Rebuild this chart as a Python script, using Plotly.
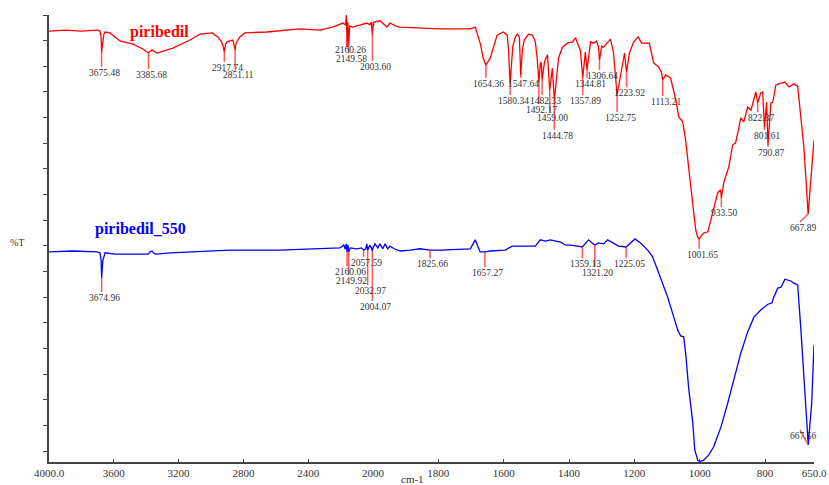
import plotly.graph_objects as go

# ---------------- data ----------------
red_wn = [4000, 3900, 3800, 3704, 3685, 3678, 3675.48, 3668, 3661, 3654, 3624, 3562, 3482, 3420,
          3385.68, 3364, 3334, 3235, 3130, 3068, 2994, 2957, 2935, 2925, 2917.74, 2910, 2902, 2865,
          2858, 2851.11, 2845, 2835, 2822, 2791, 2655, 2451, 2328, 2248, 2186, 2170, 2164, 2160.26,
          2155, 2149.58, 2144, 2124, 2081, 2038, 2019, 2010, 2003.60, 1997, 1979, 1963, 1957, 1948,
          1930, 1917, 1856, 1794, 1702, 1687, 1672, 1662, 1654.36, 1641, 1620, 1601, 1589, 1585,
          1580.34, 1572, 1564, 1558, 1552, 1547.64, 1543, 1537, 1524, 1512, 1503, 1497, 1492.17,
          1488, 1485, 1482.33, 1475, 1466, 1459.00, 1451, 1444.78, 1432, 1420, 1405, 1389, 1380,
          1374, 1365, 1357.89, 1350, 1344.81, 1334, 1325, 1316, 1310, 1306.64, 1300, 1294, 1273,
          1264, 1252.75, 1242, 1230, 1223.92, 1215, 1202, 1188, 1178, 1154, 1141, 1126, 1117,
          1113.21, 1104, 1089, 1073, 1064, 1052, 1043, 1027, 1012, 1006, 1001.65, 995, 988, 975, 966,
          957, 945, 936, 933.50, 926, 911, 899, 890, 883, 874, 865, 853, 843, 828, 822.37, 813,
          807, 801.61, 795, 790.87, 782, 776, 767, 758, 739, 727, 712, 700, 681, 667.89, 650]
red_T = [96.4, 96.6, 96.4, 96.6, 96.4, 95.0, 91.7, 94.5, 95.7, 96.2, 96.0, 94.2, 93.5, 92.4,
         91.5, 92.2, 91.5, 92.6, 94.4, 95.7, 96.0, 95.1, 94.0, 93.0, 91.7, 93.5, 94.0, 94.4,
         93.5, 92.2, 93.8, 94.4, 95.1, 96.0, 96.2, 96.9, 96.6, 97.3, 98.2, 97.8, 100.0, 92.8,
         98.4, 93.3, 97.5, 97.3, 97.8, 98.2, 97.8, 98.4, 95.5, 98.4, 98.7, 97.8, 97.3, 98.2,
         97.5, 97.3, 97.1, 96.9, 96.9, 97.3, 93.7, 90.2, 88.8, 90.4, 95.5, 96.2, 95.5, 92.0,
         84.6, 93.0, 95.1, 95.7, 95.1, 86.4, 92.0, 94.4, 95.7, 95.5, 94.0, 89.9, 85.0,
         89.0, 89.5, 85.5, 89.5, 91.1, 83.2, 88.1, 81.0, 90.4, 92.8, 93.7, 94.0, 94.9,
         93.7, 92.0, 85.9, 91.7, 87.7, 94.0, 93.7, 94.2, 93.0, 89.9, 93.0, 92.8, 94.6,
         91.7, 82.1, 87.0, 91.5, 87.2, 91.5, 94.0, 95.1, 93.7, 93.7, 89.3, 88.4, 87.2,
         85.5, 86.6, 85.9, 81.0, 77.2, 76.1, 72.0, 61.5, 51.9, 50.3, 49.9, 50.6, 51.2, 51.5, 54.1,
         57.0, 60.2, 60.9, 59.1, 62.6, 66.0, 70.9, 71.4, 73.8, 77.0, 76.1, 79.4, 78.7, 82.8, 80.3, 82.6,
         82.8, 74.9, 80.5, 70.9, 80.3, 80.5, 84.3, 84.6, 85.0, 83.9, 84.6, 84.1, 70.5, 55.5, 72.0]

blue_wn = [4000, 3850, 3704, 3685, 3678, 3674.96, 3668, 3661, 3654, 3593, 3439, 3389, 3375, 3364,
           3350, 3334, 3253, 3130, 3068, 2883, 2575, 2266, 2205, 2190, 2180, 2172, 2165, 2160.06,
           2155, 2149.92, 2140, 2100, 2070, 2057.59, 2045, 2038, 2032.97, 2020, 2010, 2004.07,
           1994, 1985, 1979, 1970, 1963, 1955, 1948, 1935, 1917, 1886, 1856, 1825.66, 1794, 1702,
           1687, 1672, 1657.27, 1641, 1595, 1574, 1549, 1503, 1488, 1472, 1457, 1426, 1410, 1396,
           1374, 1359.13, 1340, 1321.20, 1310, 1294, 1282, 1264, 1248, 1225.05, 1198, 1181, 1159,
           1144, 1129, 1113, 1098, 1083, 1067, 1058, 1049, 1043, 1034, 1021, 1015, 1006, 1000,
           988, 972, 957, 935, 914, 896, 874, 853, 834, 813, 791, 779, 773, 761, 751, 739, 721,
           712, 700, 690, 681, 667.56, 657, 650]
blue_T = [47.0, 47.2, 47.0, 46.8, 45.0, 41.2, 45.0, 46.1, 46.8, 46.5, 46.5, 46.5, 47.0, 47.2,
          46.6, 46.5, 46.8, 47.0, 47.2, 47.4, 47.4, 47.7, 47.9, 48.2, 48.6, 47.6, 48.8, 47.0,
          48.6, 47.0, 47.9, 47.7, 47.9, 47.4, 47.7, 48.8, 47.4, 48.5, 47.9, 47.2,
          48.8, 47.9, 48.8, 47.7, 48.8, 47.7, 48.3, 47.7, 47.2, 47.4, 47.7, 47.4, 47.4, 47.7,
          49.7, 47.0, 47.0, 47.2, 47.4, 48.3, 48.3, 48.3, 49.7, 49.4, 49.7, 49.2, 48.5, 48.5,
          48.3, 48.1, 49.7, 48.5, 49.0, 48.8, 49.7, 49.0, 48.3, 48.1, 49.9, 49.0, 47.4,
          45.9, 43.0, 39.6, 36.9, 33.3, 29.5, 28.2, 28.0, 24.4, 16.8, 8.7, 2.7, 0.4, 0.1,
          0.4, 1.6, 3.4, 7.8, 13.2, 18.3, 24.4, 29.1, 32.4, 34.0, 35.3, 35.6, 36.9, 38.9, 39.1,
          40.9, 40.5, 40.0, 39.6, 29.5, 18.3, 3.8, 13.2, 26.2]

# peak labels: wavenumber and %T at the peak
red_peaks = [3675.48, 3385.68, 2917.74, 2851.11, 2160.26, 2149.58, 2003.60, 1654.36, 1580.34,
             1547.64, 1492.17, 1482.33, 1459.00, 1444.78, 1357.89, 1344.81, 1306.64, 1252.75,
             1223.92, 1113.21, 1001.65, 933.50, 822.37, 801.61, 790.87, 667.89]
red_peak_T = [91.7, 91.5, 91.7, 92.2, 92.8, 93.3, 95.5, 88.8, 84.6,
              86.4, 85.0, 85.5, 83.2, 81.0, 85.9, 87.7, 89.9, 82.1,
              87.2, 85.5, 49.9, 59.1, 80.3, 74.9, 70.9, 55.5]
blue_peaks = [3674.96, 2160.06, 2149.92, 2057.59, 2032.97, 2004.07, 1825.66, 1657.27,
              1359.13, 1321.20, 1225.05, 667.56]
blue_peak_T = [41.2, 47.0, 47.0, 47.4, 47.4, 47.2, 47.4, 47.0, 48.1, 48.5, 48.1, 3.8]

# label placement (layout): end point of each leader line, where its text hangs
red_lab_x = [3675.48, 3385.68, 2917.74, 2851.11, 2160.26, 2149.58, 2003.60, 1654.36, 1580.34,
             1547.64, 1492.17, 1482.33, 1459.00, 1444.78, 1357.89, 1344.81, 1306.64, 1252.75,
             1223.92, 1113.21, 1001.65, 933.50, 822.37, 801.61, 790.87, 693]
red_lab_y = [88.4, 87.9, 89.5, 87.9, 93.6, 91.5, 89.7, 85.9, 82.1,
             85.9, 80.1, 82.1, 78.3, 74.3, 82.1, 85.9, 87.7, 78.3,
             83.9, 81.9, 47.7, 57.0, 78.3, 74.3, 70.5, 53.7]
blue_lab_x = [3674.96, 2160.06, 2149.92, 2057.59, 2032.97, 2004.07, 1825.66, 1657.27,
              1359.13, 1321.20, 1225.05, 693]
blue_lab_y = [38.0, 43.8, 41.8, 45.9, 39.6, 36.0, 45.6, 43.6, 45.6, 43.6, 45.6, 7.2]

x_ticks_hi = [4000, 3600, 3200, 2800, 2400]
x_text_hi = ["4000.0", "3600", "3200", "2800", "2400"]
x_ticks_lo = [2000, 1800, 1600, 1400, 1200, 1000, 800, 650]
x_text_lo = ["2000", "1800", "1600", "1400", "1200", "1000", "800", "650.0"]

# ---------------- figure ----------------
SERIF = "Liberation Serif, Times New Roman, serif"
split = 324 / 765.0

fig = go.Figure()
for xa in ("x", "x2"):
    fig.add_trace(go.Scatter(x=red_wn, y=red_T, mode="lines", xaxis=xa, yaxis="y",
                             line=dict(color="#ff0000", width=1.3), showlegend=False,
                             hoverinfo="skip"))
    fig.add_trace(go.Scatter(x=blue_wn, y=blue_T, mode="lines", xaxis=xa, yaxis="y",
                             line=dict(color="#0000ff", width=1.3), showlegend=False,
                             hoverinfo="skip"))

LEAD = "rgba(255,30,30,0.75)"
shapes = []
annotations = []


def add_labels(peaks, peak_T, lab_x, lab_y):
    for p, pt, lx, ly in zip(peaks, peak_T, lab_x, lab_y):
        xr = "x" if p > 2000 else "x2"
        xr_l = "x" if lx > 2000 else "x2"
        shapes.append(dict(type="line", xref=xr, yref="y", x0=p, y0=pt, x1=lx, y1=ly,
                           line=dict(color=LEAD, width=1.5), layer="above"))
        annotations.append(dict(x=lx, y=ly, xref=xr_l, yref="y", text=f"{p:.2f}",
                                showarrow=False, xanchor="center", yanchor="top",
                                xshift=3, yshift=1,
                                font=dict(family=SERIF, size=9.5, color="#333333")))


add_labels(red_peaks, red_peak_T, red_lab_x, red_lab_y)
add_labels(blue_peaks, blue_peak_T, blue_lab_x, blue_lab_y)

txt = dict(showarrow=False, xref="paper", yref="paper", xanchor="center", yanchor="middle")
annotations.append(dict(x=(159 - 49) / 765, y=(462 - 32) / 447, text="<b>piribedil</b>",
                        font=dict(family=SERIF, size=16, color="#ff0000"), **txt))
annotations.append(dict(x=(140 - 49) / 765, y=(462 - 229) / 447, text="<b>piribedil_550</b>",
                        font=dict(family=SERIF, size=16, color="#0000ff"), **txt))
annotations.append(dict(x=(17 - 49) / 765, y=(462 - 243) / 447, text="%T",
                        font=dict(family=SERIF, size=10, color="#333333"), **txt))
annotations.append(dict(x=(412 - 49) / 765, y=(462 - 479) / 447, text="cm-1",
                        font=dict(family=SERIF, size=11, color="#333333"), **txt))

axis_common = dict(showgrid=False, zeroline=False, showline=True, linecolor="#444444",
                   linewidth=1.5, ticks="inside", ticklen=3, tickcolor="#444444",
                   tickfont=dict(family=SERIF, size=11, color="#333333"))

fig.update_layout(
    width=829, height=485,
    margin=dict(l=49, r=15, t=15, b=23, autoexpand=False),
    paper_bgcolor="white", plot_bgcolor="white",
    xaxis=dict(domain=[0, split], range=[4000, 2000], anchor="y",
               tickmode="array", tickvals=x_ticks_hi, ticktext=x_text_hi, **axis_common),
    xaxis2=dict(domain=[split, 1], range=[2000, 650], anchor="y",
                tickmode="array", tickvals=x_ticks_lo, ticktext=x_text_lo, **axis_common),
    yaxis=dict(range=[0, 100], anchor="x", showgrid=False, zeroline=False, showline=True,
               linecolor="#444444", linewidth=1.5, ticks="outside", ticklen=4,
               tickcolor="#444444", tick0=100, dtick=5.74, showticklabels=False),
    shapes=shapes,
    annotations=annotations,
)

fig.write_html("out.html")
